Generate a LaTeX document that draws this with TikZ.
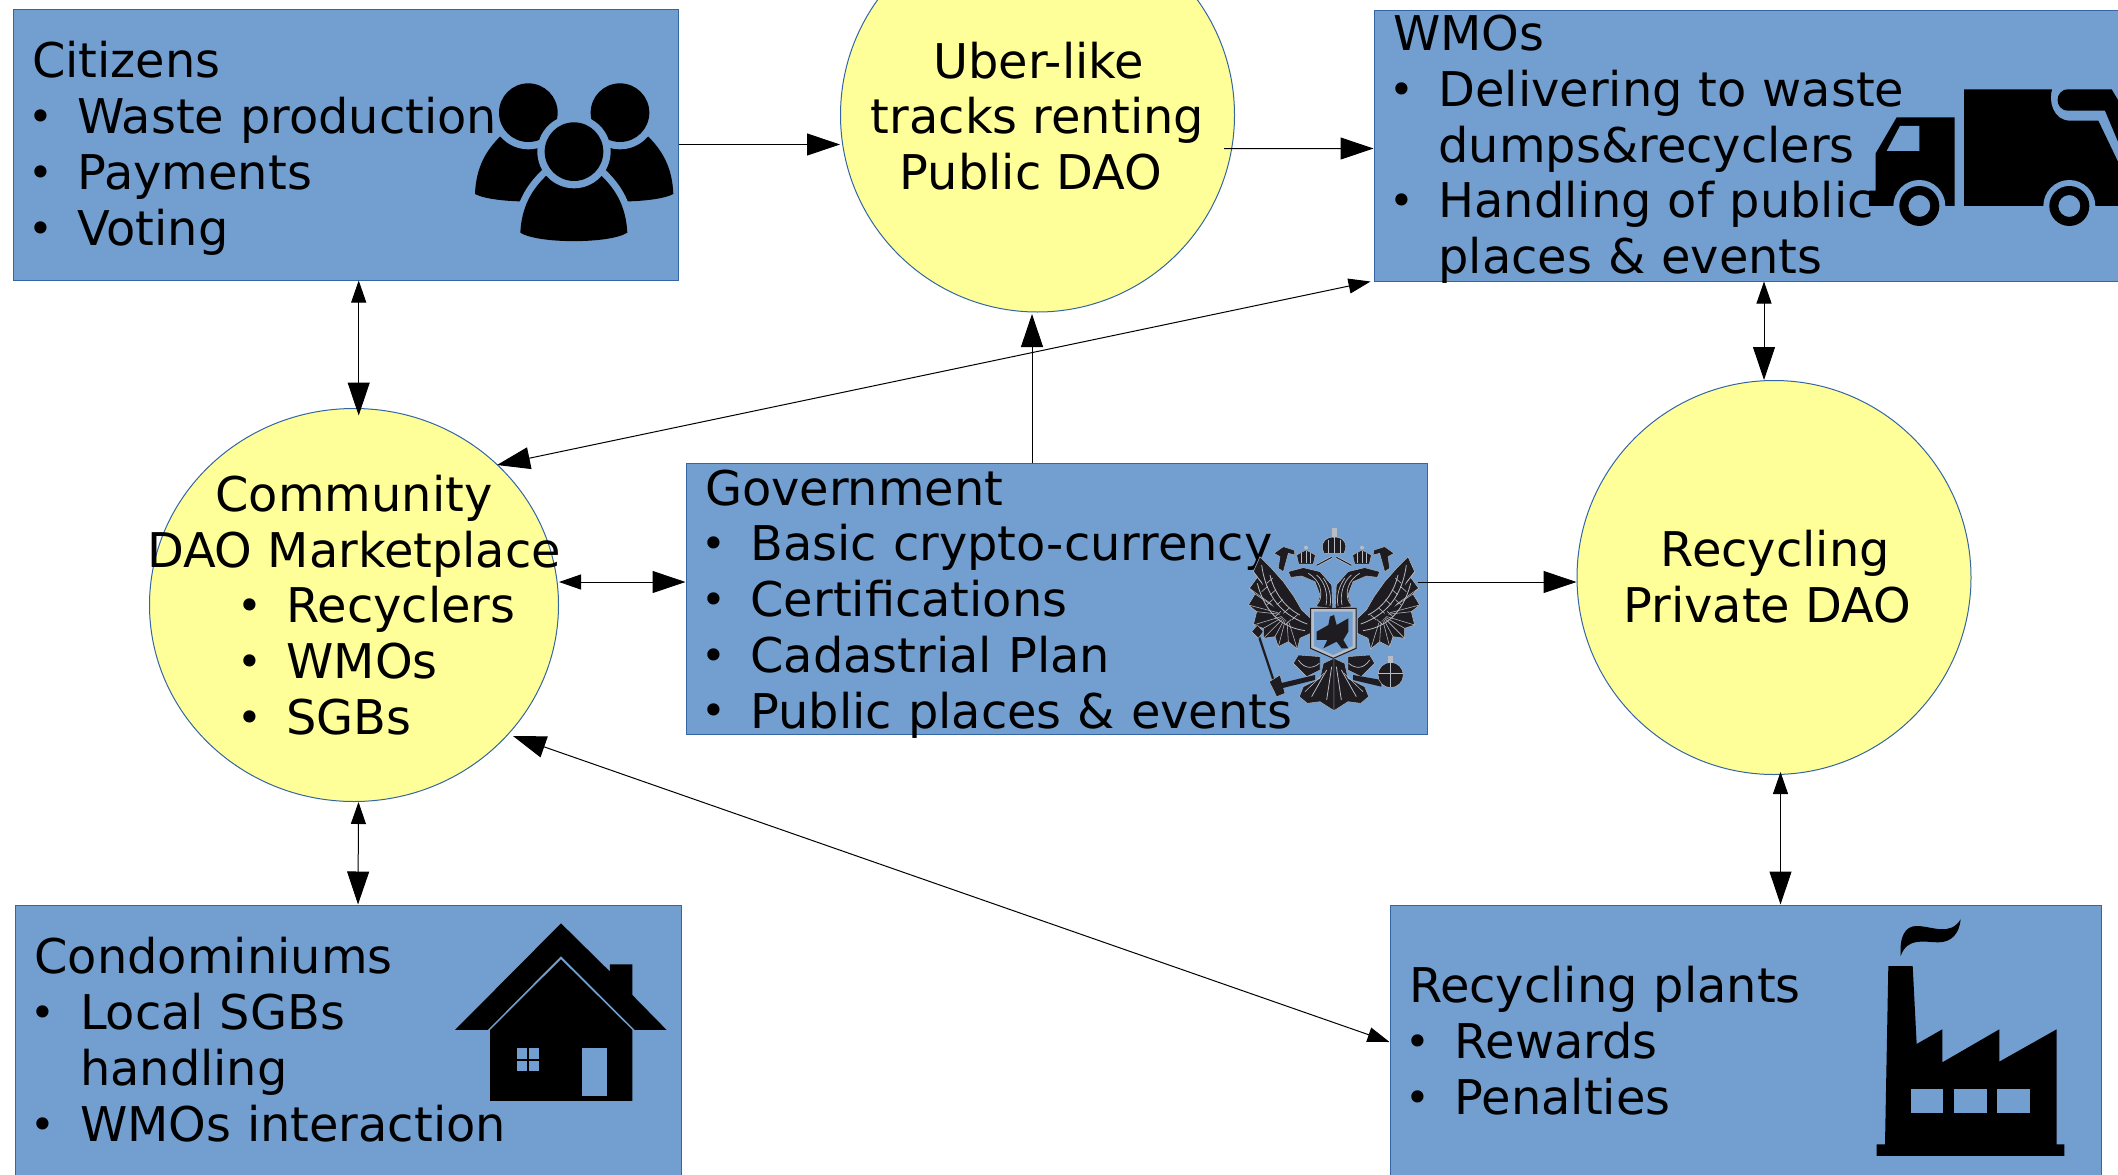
\documentclass[tikz,border=0pt]{standalone}
\usepackage{fontspec}
\setmainfont{DejaVu Sans}
\usetikzlibrary{arrows.meta,shapes.geometric}
\definecolor{boxfill}{HTML}{729FCF}
\definecolor{boxline}{HTML}{3465A4}
\definecolor{circfill}{HTML}{FFFF99}
\definecolor{eaglegrey}{HTML}{B8BCC4}
\definecolor{eagledark}{HTML}{1E1C20}
\newcommand{\dotmark}{\raisebox{2.3pt}{\fontsize{42}{42}\selectfont•}}
\newcommand{\bl}[1]{\makebox[45.5pt][l]{\hspace*{-3.9pt}\dotmark}#1}
\newcommand{\cl}[1]{\makebox[0pt][l]{\hspace*{-67.5pt}\llap{\makebox[45.5pt][l]{\hspace*{-3.9pt}\dotmark}}#1}}
\tikzset{
  bigfont/.style={font=\fontsize{47.85}{55.8}\selectfont},
  infobox/.style={draw=boxline,fill=boxfill,line width=1pt,rectangle,inner sep=0pt,
    minimum width=#1 pt,minimum height=271pt},
  boxtext/.style={inner sep=0pt,text width=#1-38,align=left,bigfont},
  daocircle/.style={draw=boxline,fill=circfill,line width=1pt,ellipse,inner sep=0pt},
  daotext/.style={align=center,inner sep=0pt,bigfont},
  link/.style={line width=1pt,draw=black},
  bigA/.tip={Triangle[length=33pt,width=22pt]},
  smallA/.tip={Triangle[length=22pt,width=15pt]}
}
\newcommand{\eaglehalf}{%
  % wing
  \fill[eagledark,draw=eaglegrey,line width=.5pt] (120,170)--(100,215)--(112,232)--(88,265)--(105,282)--(85,315)--(110,335)--(100,375)--(130,385)--(130,415)--(165,410)--(175,440)--(205,425)--(232,447)--(240,415)--(272,400)--(272,355)--(245,330)--(222,290)--(190,245)--(150,200)--cycle;
  \foreach \a/\b in {100/215,112/232,88/265,105/282,85/315,110/335,100/375,130/385,130/415,165/410,175/440,205/425,232/447}{
    \draw[eaglegrey,line width=.55pt] (\a,\b) -- (200,345);
  }
  \fill[eagledark] (150,235) .. controls (170,300) and (215,350) .. (265,370) -- (265,392) .. controls (200,385) and (140,310) .. (125,240) -- cycle;
  \draw[eaglegrey,line width=.8pt] (125,195) .. controls (135,270) and (170,340) .. (262,372);
  \draw[eaglegrey,line width=.8pt] (112,250) .. controls (130,320) and (170,380) .. (255,392);
  \draw[eaglegrey,line width=.8pt] (150,225) .. controls (160,270) and (190,320) .. (240,345);
  \foreach \a/\b in {140/250,150/285,170/315,190/340,215/360,125/275,140/315,165/350,195/375}{
    \draw[eaglegrey,line width=.6pt] (\a,\b) -- ++(18,-16);
  }
  % neck and head
  \fill[eagledark,draw=eaglegrey,line width=.4pt] (338,325)--(290,320)--(300,285)--(285,245)--(245,228)--(212,232)--(205,215)--(250,203)--(300,215)--(335,255)--cycle;
  \draw[eaglegrey,line width=.7pt] (295,310) .. controls (312,280) and (300,240) .. (265,220);
  \draw[eaglegrey,line width=.7pt] (318,315) .. controls (325,285) and (315,245) .. (290,225);
  \draw[eaglegrey,line width=.7pt] (330,318) .. controls (335,290) and (328,260) .. (310,235);
  % crown on the head
  \fill[eagledark,draw=eaglegrey,line width=.4pt] (236,192)--(230,165)--(258,150)--(286,165)--(280,192)--cycle;
  \draw[eaglegrey,line width=.6pt] (258,152) -- (258,190) (244,160) -- (244,190) (272,160) -- (272,190);
  \fill[eaglegrey] (258,143) circle[radius=6];
  % crown ribbon
  \draw[eaglegrey,line width=2.4pt] (290,196) -- (335,172);
  \draw[eagledark,line width=1pt] (290,196) -- (335,172);
  \fill[eagledark,draw=eaglegrey,line width=.4pt] (162,160)--(190,140)--(222,150)--(225,165)--(205,160)--(190,215)--(175,205)--(180,170)--cycle;
  % tail half and leg
  \fill[eagledark,draw=eaglegrey,line width=.4pt] (342,475)--(310,490)--(300,535)--(250,560)--(238,590)--(262,610)--(300,605)--(342,632)--cycle;
  \draw[eaglegrey,line width=.8pt] (335,500) -- (320,600);
  \draw[eaglegrey,line width=.8pt] (320,510) -- (275,590);
  \draw[eaglegrey,line width=.6pt] (312,520) -- (255,575);
  \fill[eagledark,draw=eaglegrey,line width=.4pt] (300,470)--(235,465)--(220,490)--(260,530)--(300,510)--cycle;
  \draw[eaglegrey,line width=.7pt] (235,480) .. controls (255,510) and (280,505) .. (298,490);
}
\newcommand{\bodycentre}{(211,548) .. controls (215,470) and (245,420) .. (288,378) -- (455,378) .. controls (498,420) and (528,470) .. (532,548) .. controls (480,582) and (263,582) .. (211,548) -- cycle}
\begin{document}
\begin{tikzpicture}[x=1pt,y=-1pt]
\clip (0,0) rectangle (2118,1175);

% DAO circles
\node[daocircle,minimum width=394pt,minimum height=394pt] (uber) at (1037.5,115) {};
\node[daocircle,minimum width=409pt,minimum height=393pt] (community) at (354,605) {};
\node[daocircle,minimum width=394pt,minimum height=394pt] (recycling) at (1774,577.5) {};

% Boxes
\node[infobox=665] (citizens) at (345.5,144.5) {};
\node[infobox=754] (wmos) at (1751,145.5) {};
\node[infobox=741] (government) at (1056.5,599) {};
\node[infobox=666] (condominiums) at (348,1040.5) {};
\node[infobox=711] (plants) at (1745.5,1040.5) {};

% Box texts
\node[boxtext=665] (citizenstext) at ([yshift=-6pt]citizens.center) {\strut Citizens\\\bl{Waste production}\\\bl{Payments}\\\bl{Voting\strut}};
\node[boxtext=754] (wmostext) at ([yshift=-5.5pt]wmos.center) {\strut WMOs\\\bl{Delivering to waste}\\\hspace*{45.5pt}dumps\&recyclers\\\bl{Handling of public}\\\hspace*{45.5pt}places \& events\strut};
\node[boxtext=741] (governmenttext) at ([yshift=-6.5pt]government.center) {\strut Government\\\bl{Basic crypto-currency}\\\bl{Certifications}\\\bl{Cadastrial Plan}\\\bl{Public places \& events\strut}};
\node[boxtext=666] (condominiumstext) at ([shift={(.5pt,-6pt)}]condominiums.center) {\strut Condominiums\\\bl{Local SGBs}\\\hspace*{45.5pt}handling\\\bl{WMOs interaction\strut}};
\node[boxtext=711] (plantstext) at ([yshift=-7pt]plants.center) {\strut Recycling plants\\\bl{Rewards}\\\bl{Penalties\strut}};

% Circle texts
\node[daotext] (ubertext) at ([yshift=-7.7pt]uber.center) {\strut Uber-like\hspace*{-2.7pt}\\tracks renting\\Public DAO\hspace*{13.3pt}\strut};
\node[daotext] (communitytext) at ([yshift=-6.7pt]community.center) {\strut Community\\DAO Marketplace\\\cl{Recyclers}\\\cl{WMOs}\\\cl{SGBs\strut}};
\node[daotext] (recyclingtext) at ([yshift=-5.9pt]recycling.center) {\strut Recycling\hspace*{-2.6pt}\\Private DAO\hspace*{13.3pt}\strut};

% Connectors
\draw[link,-{bigA}] (citizens.east |- 678,144.5) -- ([yshift=-29.5pt]uber.west);
\draw[link,-{bigA}] ([shift={(186.5pt,-33.6pt)}]uber.center) -- ([yshift=-3pt]wmos.west);
\draw[link,-{bigA}] ([xshift=-24.5pt]government.north) -- ([shift={(-5.5pt,-1.5pt)}]uber.south);
\draw[link,{smallA}-{bigA}] ([xshift=-3pt]wmos.south west) -- ([shift={(143pt,140pt)}]community.center);
\draw[link,{smallA}-{bigA}] ([xshift=13pt]wmos.south) -- ([xshift=-10pt]recycling.north);
\draw[link,{smallA}-{bigA}] ([xshift=13.2pt]citizens.south) -- ([shift={(4.7pt,-7.5pt)}]community.north);
\draw[link,{smallA}-{bigA}] ([yshift=23pt]community.east) -- ([yshift=17pt]government.west);
\draw[link,-{bigA}] ([shift={(-10pt,17pt)}]government.east) -- ([yshift=-4.5pt]recycling.west);
\draw[link,{smallA}-{bigA}] ([xshift=4.5pt]community.south) -- ([xshift=10pt]condominiums.north);
\draw[link,{bigA}-{smallA}] ([shift={(159pt,-131pt)}]community.center) -- ([yshift=-1.5pt]plants.west);
\draw[link,{smallA}-{bigA}] ([shift={(6.5pt,3pt)}]recycling.south) -- ([xshift=35pt]plants.north);

% People icon
\begin{scope}[shift={(450,50)},x=.3333pt,y=-.3333pt]
  \fill (75,432) .. controls (78,350) and (110,300) .. (150,260) -- (320,260) .. controls (360,300) and (392,350) .. (395,432) .. controls (340,462) and (130,462) .. (75,432) -- cycle;
  \fill (670,432) .. controls (667,350) and (635,300) .. (595,260) -- (425,260) .. controls (385,300) and (353,350) .. (350,432) .. controls (405,462) and (615,462) .. (670,432) -- cycle;
  \fill[boxfill] (235,188) circle[radius=110];
  \fill[boxfill] (510,188) circle[radius=110];
  \fill (235,188) circle[radius=88];
  \fill (510,188) circle[radius=88];
  \path[fill=boxfill,draw=boxfill,line width=14pt] \bodycentre;
  \fill \bodycentre;
  \fill[boxfill] (372,305) circle[radius=110];
  \fill (372,305) circle[radius=88];
\end{scope}

% Truck icon
\begin{scope}[shift={(1850,60)},x=.3333pt,y=-.3333pt]
  \fill (57,438) -- (57,392) -- (77,392) -- (77,280) -- (140,172) -- (314,172) -- (314,438) -- cycle;
  \fill[boxfill] (110,273) -- (150,198) -- (208,198) -- (208,273) -- cycle;
  \fill (342,88) -- (606,88) .. controls (595,125) and (610,182) .. (660,182) -- (745,182) -- (804,305) -- (804,438) -- (342,438) -- cycle;
  \fill (655,88) -- (785,88) -- (804,120) -- (804,245) -- (765,152) -- (655,152) .. controls (612,152) and (612,88) .. (655,88) -- cycle;
  \fill[boxfill] (130,438) arc[start angle=180,end angle=360,radius=78] -- cycle;
  \fill[boxfill] (580,438) arc[start angle=180,end angle=360,radius=78] -- cycle;
  \fill[even odd rule] (208,438) circle[radius=60] (208,438) circle[radius=33];
  \fill[even odd rule] (658,438) circle[radius=60] (658,438) circle[radius=33];
\end{scope}

% Coat of arms
\begin{scope}[shift={(1220,500)},x=.3333pt,y=-.3333pt]
  \eaglehalf
  % sceptre
  \draw[eagledark,line width=2.2pt] (112,395) -- (172,575);
  \fill[eagledark,draw=eaglegrey,line width=.4pt] (95,395) -- (112,375) -- (130,395) -- (115,415) -- cycle;
  \fill[eagledark,draw=eaglegrey,line width=.4pt] (148,545) -- (180,525) -- (195,580) -- (170,590) -- cycle;
  \fill[eagledark] (180,550) -- (285,525) -- (285,540) -- (185,565) -- cycle;
\end{scope}
\begin{scope}[shift={(1448,500)},x=-.3333pt,y=-.3333pt]
  \eaglehalf
  \fill[eagledark] (200,540) -- (285,525) -- (285,540) -- (200,560) -- cycle;
\end{scope}
\begin{scope}[shift={(1220,500)},x=.3333pt,y=-.3333pt]
  % orb
  \fill[eagledark,draw=eaglegrey,line width=.5pt] (512,525) circle[radius=38];
  \draw[eaglegrey,line width=1pt] (475,520) -- (550,520);
  \draw[eaglegrey,line width=.6pt] (512,488) -- (512,562);
  \fill[eaglegrey] (505,468) rectangle (519,490);
  % centre crown
  \fill[eagledark,draw=eaglegrey,line width=.5pt] (312,160) .. controls (295,125) and (325,108) .. (342,112) .. controls (360,108) and (390,125) .. (372,160) -- cycle;
  \fill[eaglegrey] (335,85) rectangle (350,110);
  \draw[eaglegrey,line width=.8pt] (342,112) -- (342,158);
  \draw[eaglegrey,line width=.8pt] (325,120) -- (325,158);
  \draw[eaglegrey,line width=.8pt] (360,120) -- (360,158);
  % shield
  \filldraw[fill=eaglegrey,draw=eagledark,line width=1pt] (272,325) -- (408,325) -- (408,445) -- (340,475) -- (272,445) -- cycle;
  \fill[boxfill] (282,335) -- (398,335) -- (398,438) -- (340,465) -- (282,438) -- cycle;
  % rider
  \fill[eagledark] (290,395) -- (325,375) -- (330,350) -- (342,345) -- (350,375) -- (385,355) -- (385,395) -- (370,420) -- (385,445) -- (365,445) -- (350,425) -- (310,445) -- (322,420) -- (290,420) -- cycle;
\end{scope}

% House icon
\begin{scope}[shift={(440,900)},x=.3333pt,y=-.3333pt]
  \fill (45,390) -- (363,70) -- (510,215) -- (510,193) -- (577,193) -- (577,285) -- (680,390) -- (585,390) -- (363,168) -- (143,390) -- cycle;
  \fill (150,390) -- (363,178) -- (577,390) -- (577,603) -- (150,603) -- cycle;
  \fill[boxfill] (232,445) rectangle (298,512);
  \fill (262,445) rectangle (268,512);
  \fill (232,476) rectangle (298,482);
  \fill[boxfill] (427,445) rectangle (500,587);
\end{scope}

% Factory icon
\begin{scope}[shift={(1850,900)},x=.3333pt,y=-.3333pt]
  \fill (80,768) -- (80,733) -- (105,733) -- (115,198) -- (188,198) -- (200,432) -- (277,388) -- (277,487) -- (448,388) -- (448,485) -- (620,388) -- (620,733) -- (643,733) -- (643,768) -- cycle;
  \fill[boxfill] (182,568) rectangle (280,640);
  \fill[boxfill] (312,568) rectangle (410,640);
  \fill[boxfill] (442,568) rectangle (540,640);
  \fill (152,168) .. controls (148,110) and (165,78) .. (200,78) .. controls (245,78) and (300,110) .. (332,58) .. controls (328,100) and (305,127) .. (265,127) .. controls (225,127) and (172,110) .. (152,168) -- cycle;
\end{scope}
\end{tikzpicture}
\end{document}
